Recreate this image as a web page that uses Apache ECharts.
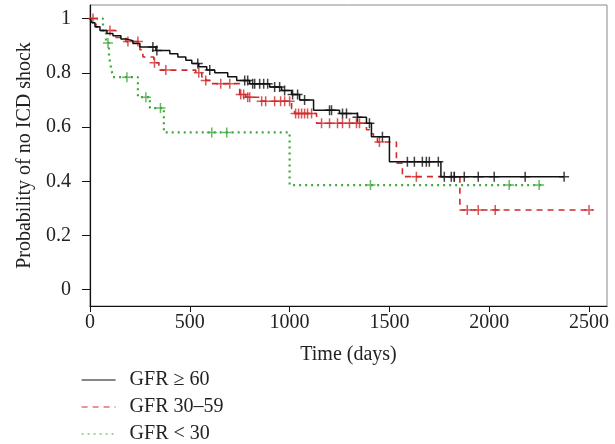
<!DOCTYPE html>
<html>
<head>
<meta charset="utf-8">
<script src="https://cdn.jsdelivr.net/npm/echarts@6/dist/echarts.min.js"></script>
<style>
  html, body { margin: 0; padding: 0; background: #fff; }
  #chart { width: 615px; height: 444px; }
</style>
</head>
<body>
<div id="chart"></div>
<script>
// 그룹 이름 (legend)
const groupNames = ['GFR \u2265 60', 'GFR 30\u201359', 'GFR < 30'];

// GFR >= 60 : step times (days) / survival
const hiTimes = [0, 10, 25, 50, 85, 115, 155, 180, 215, 250, 330, 400, 440, 480, 510, 545, 585, 625, 690, 735, 800, 900, 960, 1010, 1050, 1120, 1250, 1340, 1385, 1410, 1500, 1758];
const hiSurv  = [1, 0.985, 0.97, 0.956, 0.945, 0.937, 0.925, 0.918, 0.908, 0.895, 0.882, 0.87, 0.858, 0.846, 0.834, 0.822, 0.81, 0.80, 0.785, 0.772, 0.76, 0.748, 0.735, 0.72, 0.70, 0.662, 0.65, 0.636, 0.614, 0.564, 0.472, 0.417];
const hiEnd = 2375;
const hiCensor = [315, 335, 540, 600, 775, 790, 815, 825, 850, 870, 890, 925, 950, 975, 1015, 1040, 1075, 1200, 1210, 1265, 1285, 1340, 1400, 1465, 1590, 1625, 1665, 1685, 1700, 1745, 1775, 1810, 1825, 1875, 1945, 2025, 2180, 2375];

// GFR 30-59
const midTimes = [0, 30, 50, 130, 180, 250, 265, 320, 345, 530, 560, 580, 610, 750, 780, 855, 1010, 1025, 1135, 1385, 1400, 1420, 1440, 1535, 1565, 1853];
const midSurv  = [1, 0.968, 0.956, 0.93, 0.915, 0.885, 0.858, 0.837, 0.81, 0.80, 0.785, 0.772, 0.76, 0.72, 0.71, 0.695, 0.668, 0.65, 0.614, 0.59, 0.575, 0.56, 0.545, 0.467, 0.417, 0.294];
const midEnd = 2520;
const midCensor = [15, 100, 190, 240, 323, 380, 545, 580, 655, 700, 755, 770, 790, 800, 860, 880, 925, 955, 975, 1000, 1030, 1045, 1060, 1075, 1090, 1110, 1160, 1200, 1240, 1265, 1300, 1335, 1350, 1450, 1635, 1825, 1890, 1945, 2030, 2500];

// GFR < 30
const loTimes = [0, 65, 80, 95, 105, 115, 240, 300, 370, 1000];
const loSurv  = [1, 0.95, 0.91, 0.86, 0.82, 0.784, 0.71, 0.67, 0.58, 0.386];
const loEnd = 2265;
const loCensor = [90, 185, 280, 353, 610, 685, 1405, 2100, 2250];

// 축 눈금
const xTicks = [0, 500, 1000, 1500, 2000, 2500];
const yTicks = [0, 0.2, 0.4, 0.6, 0.8, 1];

const colors = ['#111111', '#d02a2a', '#3fa83f'];
const serif = 'Liberation Serif';
const fontSize = 20;
const plusPath = 'path://M-5,-0.75H5V0.75H-5Z M-0.75,-5H0.75V5H-0.75Z';

function stepData(times, surv, end) {
    let d = times.map((t, i) => [t, surv[i]]);
    d.push([end, surv[surv.length - 1]]);
    return d;
}

// 중도절단 시점의 생존값 조회
function censorData(times, surv, cens) {
    return cens.map(c => {
        let v = surv[0];
        for (let i = 0; i < times.length; i++) {
            if (times[i] <= c) v = surv[i];
        }
        return [c, v];
    });
}

const groups = [
    [hiTimes, hiSurv, hiEnd, hiCensor, 'solid', 1.5],
    [midTimes, midSurv, midEnd, midCensor, [6, 5], 1.6],
    [loTimes, loSurv, loEnd, loCensor, [2, 4], 2.2]
];

let series = [];
let legends = [];
groups.forEach((g, i) => {
    series.push({
        name: groupNames[i],
        type: 'line',
        step: 'end',
        symbol: 'none',
        data: stepData(g[0], g[1], g[2]),
        lineStyle: { color: colors[i], width: g[5], type: g[4] },
        itemStyle: { color: colors[i] },
        z: 3 - i
    });
    series.push({
        name: 'censor' + i,
        type: 'scatter',
        symbol: plusPath,
        symbolSize: 10,
        data: censorData(g[0], g[1], g[3]),
        itemStyle: { color: colors[i] },
        z: 3 - i
    });
    // 범례 한 줄씩
    legends.push({
        data: [groupNames[i]],
        left: 81, top: 370 + i * 27,
        padding: 0,
        itemWidth: 34, itemHeight: 14,
        itemStyle: { opacity: 0 },
        lineStyle: { width: 1.2 },
        textStyle: { fontFamily: serif, fontSize: fontSize, color: '#222', padding: [0, 0, 0, 9] }
    });
});

let chart = echarts.init(document.getElementById('chart'));
chart.setOption({
    animation: false,
    grid: {
        left: 90, right: 8, top: 5, bottom: 138,
        show: true, borderColor: '#8a8a8a', borderWidth: 1
    },
    legend: legends,
    xAxis: {
        type: 'value',
        min: 0, max: 2590,
        name: 'Time (days)',
        nameLocation: 'middle',
        nameGap: 39,
        nameTextStyle: { fontFamily: serif, fontSize: fontSize, color: '#222' },
        axisLine: { onZero: false, lineStyle: { color: '#111', width: 1.2 } },
        axisTick: { customValues: xTicks, length: 6, lineStyle: { color: '#111' } },
        axisLabel: {
            customValues: xTicks, margin: 7, fontFamily: serif, fontSize: fontSize, color: '#222',
            formatter: v => String(v)
        },
        splitLine: { show: false }
    },
    yAxis: {
        type: 'value',
        min: -0.06, max: 1.05,
        name: 'Probability of no ICD shock',
        nameLocation: 'middle',
        nameGap: 55,
        nameTextStyle: { fontFamily: serif, fontSize: fontSize, color: '#222' },
        axisLine: { show: true, lineStyle: { color: '#111', width: 1.2 } },
        axisTick: { customValues: yTicks, length: 8, lineStyle: { color: '#111' } },
        axisLabel: {
            customValues: yTicks, margin: 19, fontFamily: serif, fontSize: fontSize, color: '#222',
            formatter: v => String(v)
        },
        splitLine: { show: false }
    },
    series: series
});
</script>
</body>
</html>
